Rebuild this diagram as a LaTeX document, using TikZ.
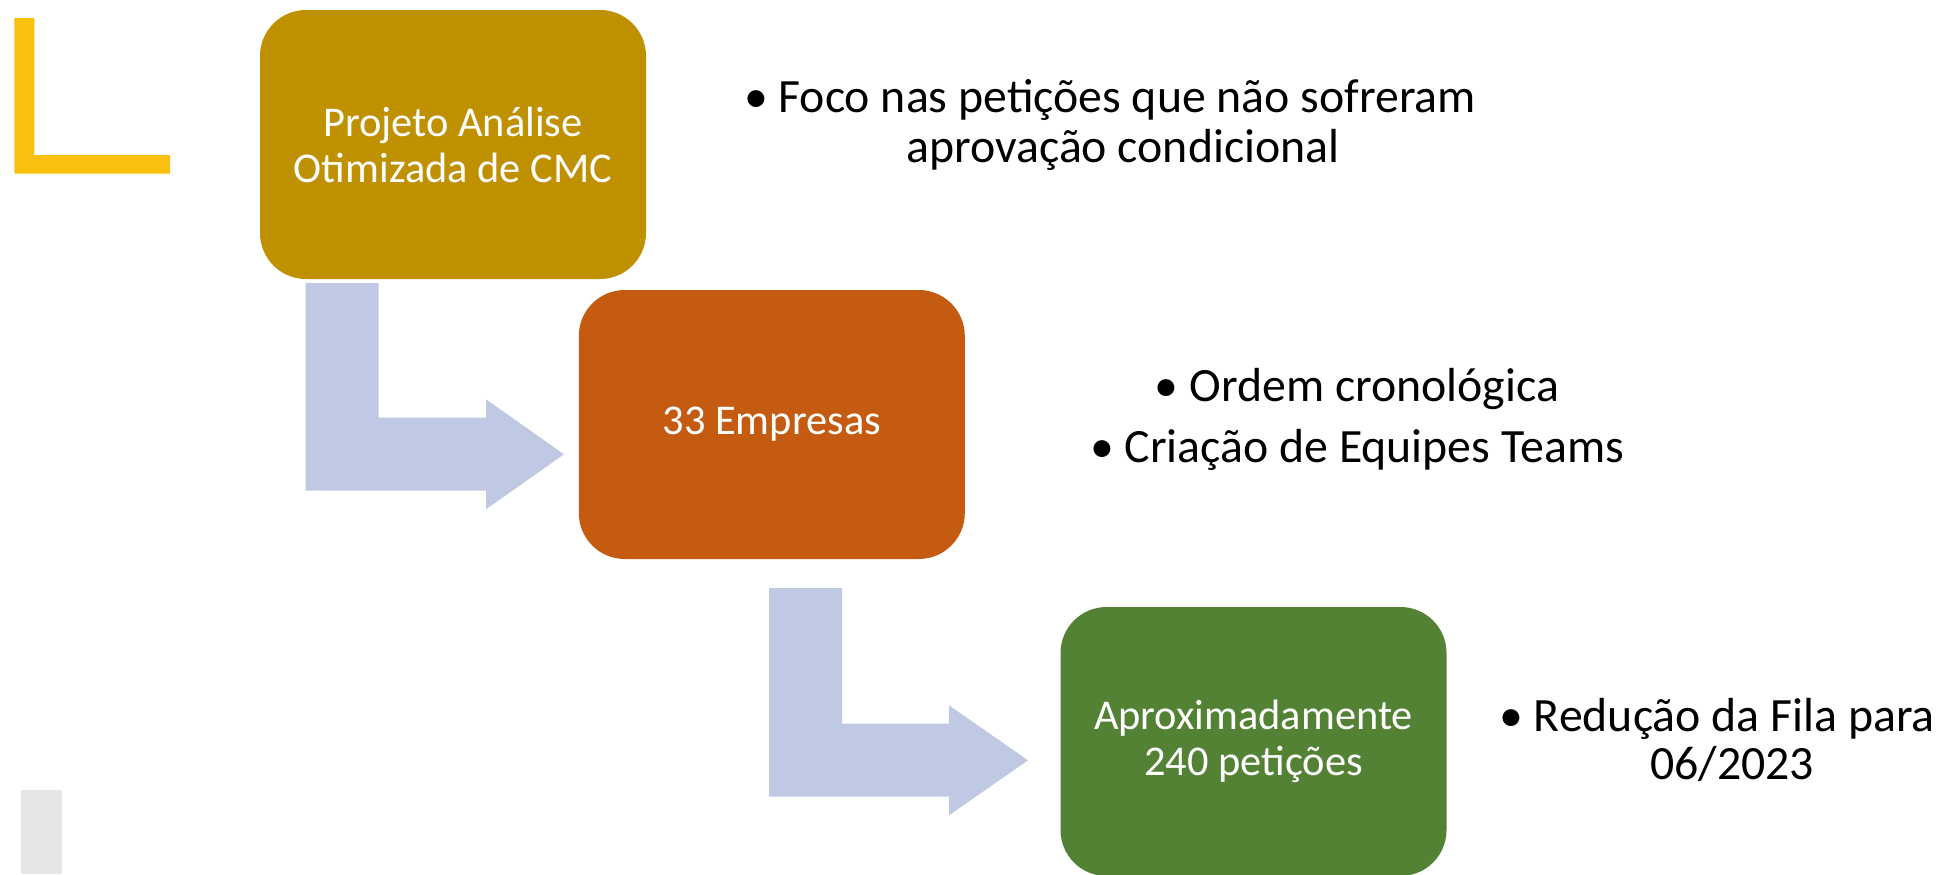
\documentclass[tikz,border=0pt]{standalone}
\usepackage{fontspec}
\setmainfont{Carlito}
\definecolor{goldbox}{HTML}{BF9000}
\definecolor{orangebox}{HTML}{C55A11}
\definecolor{greenbox}{HTML}{548235}
\definecolor{arrowc}{HTML}{BFC9E4}
\definecolor{yellowL}{HTML}{F9C010}
\definecolor{grayblock}{HTML}{E6E6E8}
\begin{document}
\begin{tikzpicture}[x=0.5pt,y=-0.5pt,
  box/.style={rounded corners=23pt, minimum width=193pt, minimum height=134.5pt,
    text=white, align=center, inner sep=0pt,
    font=\fontsize{21.2pt}{23pt}\selectfont},
  note/.style={align=center, inner sep=0pt, text=black,
    font=\fontsize{23.9pt}{25pt}\selectfont},
  bentarrow/.style={fill=arrowc, draw=none}]
\clip (0,0) rectangle (1944,874);
\fill[white] (0,0) rectangle (1944,874);
% decorations
\fill[yellowL] (14.3,18) -- (34.4,18) -- (34.4,155) -- (170,155) -- (170,173.7) -- (14.3,173.7) -- cycle;
\fill[grayblock] (20.7,790) rectangle (61.7,874);
% boxes
\node[box, fill=goldbox] (b1) at (453,144.5) {Projeto Análise\\Otimizada de CMC};
\node[box, fill=orangebox] (b2) at (771.8,424.5) {\raisebox{-4pt}{33 Empresas}};
\node[box, fill=greenbox] (b3) at (1253.5,741.5) {\raisebox{-2pt}{Aproximadamente}\\\raisebox{-2pt}{240 petições}};
% bent arrows
\coordinate (a1tip) at (564,454.3);
\coordinate (a2tip) at (1028,760.3);
\fill[bentarrow] (305.5,283) -- (378.7,283) -- (378.7,417.7) -- (486,417.7) -- (486,399.3)
  -- (a1tip) -- (486,509.3) -- (486,490.7) -- (305.5,490.7) -- cycle;
\fill[bentarrow] (769,588) -- (842,588) -- (842,723.7) -- (949,723.7) -- (949,705.3)
  -- (a2tip) -- (949,815.3) -- (949,796.7) -- (769,796.7) -- cycle;
% notes
\node[note] (n1) at (1110,125) {\textbullet\ Foco nas petições que não sofreram\\\hspace*{13pt}aprovação condicional};
\node[note, font=\fontsize{23.9pt}{30.5pt}\selectfont] (n2) at (1357,419) {\textbullet\ Ordem cronológica\\\textbullet\ Criação de Equipes Teams};
\node[note, font=\fontsize{23.9pt}{24pt}\selectfont] (n3) at (1717,740) {\textbullet\ Redução da Fila para\\\hspace*{15pt}06/2023};
\end{tikzpicture}
\end{document}
